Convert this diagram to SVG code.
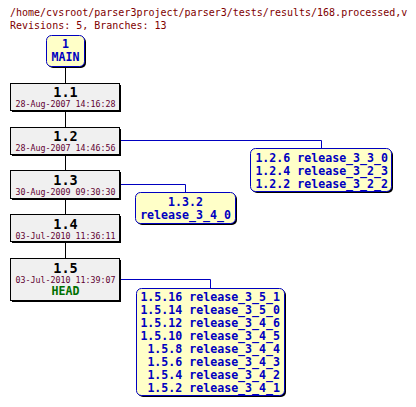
<svg xmlns="http://www.w3.org/2000/svg" width="416" height="407" viewBox="0 0 416 407">
<style>
.hdr{font-family:"DejaVu Sans Mono","Liberation Mono",monospace;font-size:10px;fill:#800000}
.rev{fill:#f0f0f0;stroke:#000;stroke-width:1}
.br{fill:#ffffc8;stroke:#0000c0;stroke-width:1}
.sh{fill:#000}
.num{font-family:"DejaVu Sans Mono","Liberation Mono",monospace;font-size:13.5px;font-weight:bold;fill:#000;text-anchor:middle}
.date{font-family:"DejaVu Sans Mono","Liberation Mono",monospace;font-size:8.3px;fill:#600030;text-anchor:middle}
.tag{font-family:"DejaVu Sans Mono","Liberation Mono",monospace;font-size:11.6px;font-weight:bold;fill:#0000c0}
.head{font-family:"DejaVu Sans Mono","Liberation Mono",monospace;font-size:11.6px;font-weight:bold;fill:#007000;text-anchor:middle}
.ln{fill:none;stroke:#000;stroke-width:1}
.bl{fill:none;stroke:#0000c0;stroke-width:1}
</style>
<text class="hdr" x="10" y="16">/home/cvsroot/parser3project/parser3/tests/results/168.processed,v</text>
<text class="hdr" x="10" y="29">Revisions: 5, Branches: 13</text>
<g id="connectors">
<path class="ln" d="M65.5 67V83M65.5 111V127M65.5 155V170M65.5 199V214M65.5 242V258"/>
<path class="bl" d="M121 140.5H321.5V148M121 184.5H185.5V192M121 279.5H210.5V288"/>
</g>
<g id="n1">
<rect class="sh" x="48" y="37" width="38" height="31" rx="5"/>
<rect class="br" x="46.5" y="35.5" width="38" height="31" rx="5"/>
<text class="tag" x="65.5" y="48" text-anchor="middle">1</text>
<text class="tag" x="65.5" y="61" text-anchor="middle">MAIN</text>
</g>
<g id="n11">
<rect class="sh" x="12" y="85" width="109" height="27"/>
<rect class="rev" x="10.5" y="83.5" width="109" height="27"/>
<text class="num" x="65.5" y="97">1.1</text>
<text class="date" x="65.5" y="107">28-Aug-2007 14:16:28</text>
</g>
<g id="n12">
<rect class="sh" x="12" y="129" width="109" height="27"/>
<rect class="rev" x="10.5" y="127.5" width="109" height="27"/>
<text class="num" x="65.5" y="141">1.2</text>
<text class="date" x="65.5" y="151">28-Aug-2007 14:46:56</text>
</g>
<g id="n13">
<rect class="sh" x="12" y="172" width="109" height="28"/>
<rect class="rev" x="10.5" y="170.5" width="109" height="28"/>
<text class="num" x="65.5" y="185">1.3</text>
<text class="date" x="65.5" y="194.5">30-Aug-2009 09:30:30</text>
</g>
<g id="n14">
<rect class="sh" x="12" y="216" width="109" height="27"/>
<rect class="rev" x="10.5" y="214.5" width="109" height="27"/>
<text class="num" x="65.5" y="228.5">1.4</text>
<text class="date" x="65.5" y="238.5">03-Jul-2010 11:36:11</text>
</g>
<g id="n15">
<rect class="sh" x="12" y="260" width="109" height="42"/>
<rect class="rev" x="10.5" y="258.5" width="109" height="42"/>
<text class="num" x="65.5" y="273">1.5</text>
<text class="date" x="65.5" y="283">03-Jul-2010 11:39:07</text>
<text class="head" x="65.5" y="295">HEAD</text>
</g>
<g id="b12">
<rect class="sh" x="252" y="150" width="141" height="43" rx="5"/>
<rect class="br" x="250.5" y="148.5" width="141" height="43" rx="5"/>
<text class="tag" x="388" y="161.5" text-anchor="end">1.2.6 release_3_3_0</text>
<text class="tag" x="388" y="174.5" text-anchor="end">1.2.4 release_3_2_3</text>
<text class="tag" x="388" y="187.5" text-anchor="end">1.2.2 release_3_2_2</text>
</g>
<g id="b13">
<rect class="sh" x="137" y="194" width="100" height="31" rx="5"/>
<rect class="br" x="135.5" y="192.5" width="100" height="31" rx="5"/>
<text class="tag" x="185.5" y="206" text-anchor="middle">1.3.2</text>
<text class="tag" x="185.5" y="219" text-anchor="middle">release_3_4_0</text>
</g>
<g id="b15">
<rect class="sh" x="138" y="290" width="148" height="107" rx="5"/>
<rect class="br" x="136.5" y="288.5" width="148" height="107" rx="5"/>
<text class="tag" x="280" y="301" text-anchor="end">1.5.16 release_3_5_1</text>
<text class="tag" x="280" y="314" text-anchor="end">1.5.14 release_3_5_0</text>
<text class="tag" x="280" y="327" text-anchor="end">1.5.12 release_3_4_6</text>
<text class="tag" x="280" y="340" text-anchor="end">1.5.10 release_3_4_5</text>
<text class="tag" x="280" y="353" text-anchor="end">1.5.8 release_3_4_4</text>
<text class="tag" x="280" y="366" text-anchor="end">1.5.6 release_3_4_3</text>
<text class="tag" x="280" y="379" text-anchor="end">1.5.4 release_3_4_2</text>
<text class="tag" x="280" y="392" text-anchor="end">1.5.2 release_3_4_1</text>
</g>
</svg>
